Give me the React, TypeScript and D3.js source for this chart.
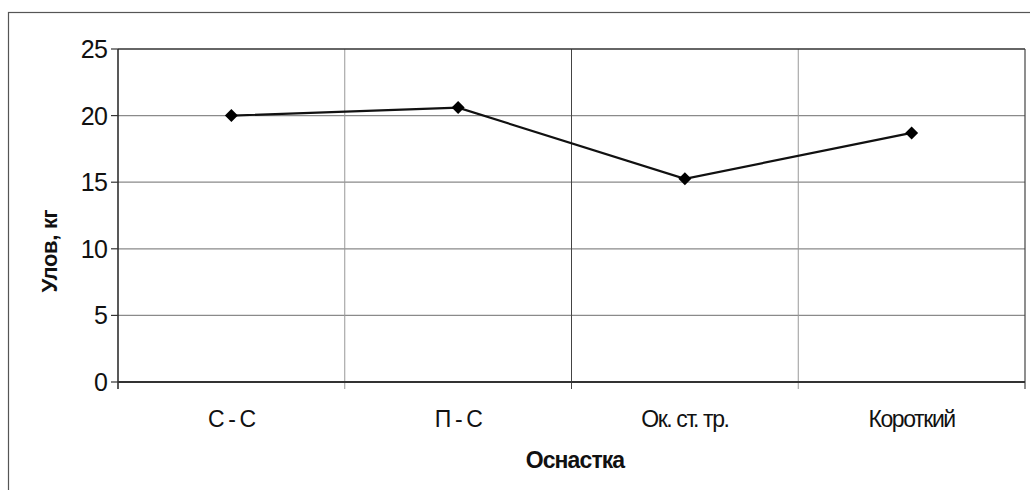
import React from "react"
import * as d3 from "d3"

const categories = ["С - С", "П - С", "Ок. ст. тр.", "Короткий"]
const catch_kg = [20.0, 20.6, 15.25, 18.7]
const yTicks = [0, 5, 10, 15, 20, 25]

const W = 1030
const H = 490
const margin = {top: 49, right: 5, bottom: 108, left: 118}

const App = () => {
    const x = d3.scaleBand<string>()
        .domain(categories)
        .range([margin.left, W - margin.right])
    const y = d3.scaleLinear()
        .domain([0, 25])
        .range([H - margin.bottom, margin.top])

    const line = d3.line<number>()
        .x((_, i) => (x(categories[i]) as number) + x.bandwidth() / 2)
        .y(d => y(d))

    const boundaries = categories.map(c => x(c) as number).concat([W - margin.right])
    const font = "Arial, 'Liberation Sans', sans-serif"

    return (
        <svg width={W} height={H} style={{position: "absolute", left: 0, top: 0, background: "#fff"}}>
            {/* outer chart frame */}
            <rect x={8.5} y={12.5} width={W + 10} height={H + 10} fill="none" stroke="#555" strokeWidth={1.2}/>

            {/* horizontal gridlines */}
            {yTicks.slice(1, -1).map(t => (
                <line key={t} x1={margin.left} x2={W - margin.right} y1={y(t)} y2={y(t)} stroke="#8a8a8a" strokeWidth={1.2}/>
            ))}
            {/* vertical gridlines at category boundaries */}
            {boundaries.slice(1, -1).map((b, i) => (
                <line key={i} x1={b} x2={b} y1={margin.top} y2={y(0) + 7} stroke={i === 1 ? "#444" : "#999"} strokeWidth={1}/>
            ))}
            {/* plot frame top/right */}
            <line x1={margin.left} x2={W - margin.right} y1={y(25)} y2={y(25)} stroke="#333" strokeWidth={1.5}/>
            <line x1={W - margin.right} x2={W - margin.right} y1={y(25)} y2={y(0) + 7} stroke="#444" strokeWidth={1.2}/>

            {/* axes */}
            <line x1={margin.left} x2={margin.left} y1={margin.top} y2={y(0) + 7} stroke="#222" strokeWidth={1.5}/>
            <line x1={margin.left} x2={W - margin.right} y1={y(0)} y2={y(0)} stroke="#333" strokeWidth={2}/>
            {yTicks.map(t => (
                <g key={t}>
                    <line x1={margin.left - 7} x2={margin.left} y1={y(t)} y2={y(t)} stroke="#333" strokeWidth={1.2}/>
                    <text x={margin.left - 11} y={y(t)} dy="0.36em" textAnchor="end" fontFamily={font} fontSize={25}
                          fill="#111" letterSpacing={-0.8}>{t}</text>
                </g>
            ))}
            {categories.map(c => (
                <text key={c} x={(x(c) as number) + x.bandwidth() / 2} y={427} textAnchor="middle"
                      fontFamily={font} fontSize={23} fill="#111" letterSpacing={-1.4}>{c}</text>
            ))}

            {/* axis titles */}
            <text x={575} y={468} textAnchor="middle" fontFamily={font}
                  fontSize={23} fontWeight="bold" fill="#111" letterSpacing={-0.9}>Оснастка</text>
            <text transform={`translate(57, 251) rotate(-90)`} textAnchor="middle"
                  fontFamily={font} fontSize={22} fontWeight="bold" fill="#111" letterSpacing={-0.3}>Улов, кг</text>

            {/* series */}
            <path d={line(catch_kg) as string} fill="none" stroke="#111" strokeWidth={2.2}/>
            {catch_kg.map((v, i) => {
                const cx = (x(categories[i]) as number) + x.bandwidth() / 2
                const cy = y(v)
                return <path key={i} d={`M${cx},${cy - 6.5}L${cx + 6.5},${cy}L${cx},${cy + 6.5}L${cx - 6.5},${cy}Z`} fill="#000"/>
            })}
        </svg>
    )
}

export default App
